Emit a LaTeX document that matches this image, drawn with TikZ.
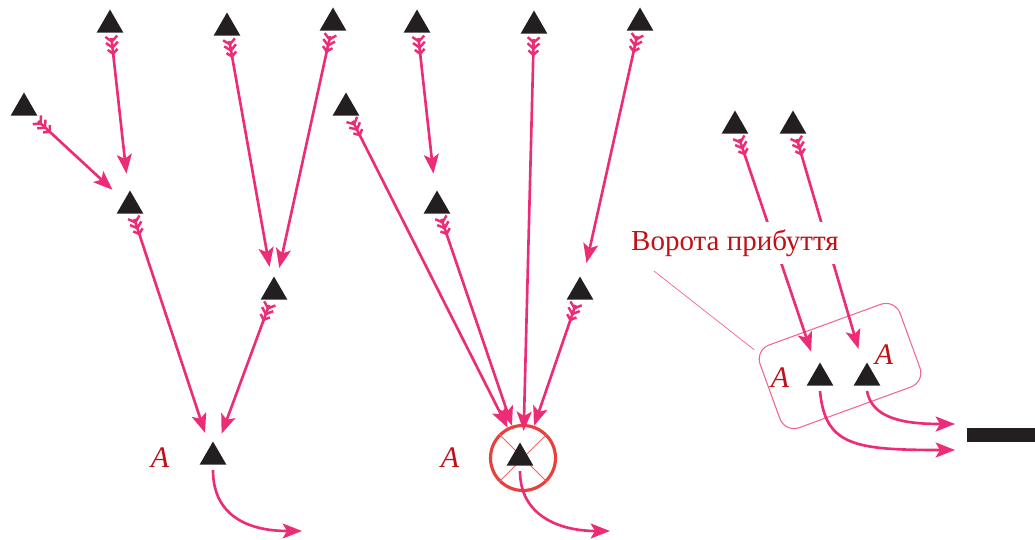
\documentclass[tikz,border=0pt]{standalone}
\usepackage{fontspec}
\setmainfont{Liberation Serif}
\usepackage{xcolor}
\usetikzlibrary{arrows.meta,shapes.geometric,decorations.markings}

\definecolor{arrowpink}{RGB}{236,44,118}
\definecolor{labelred}{RGB}{192,16,24}
\definecolor{ringred}{RGB}{232,64,60}
\definecolor{boxpink}{RGB}{240,100,145}
\definecolor{antblack}{RGB}{35,31,32}

\begin{document}
\begin{tikzpicture}[x=0.02cm,y=-0.02cm,
  every node/.style={font=\fontsize{16.5}{19}\selectfont},
  ant/.style={regular polygon,regular polygon sides=3,fill=antblack,
    minimum size=0.62cm,inner sep=0pt,outer sep=3pt},
  chevron/.style={draw=arrowpink,line width=1.4pt,-,shorten <=0pt,shorten >=0pt},
  flow/.style={draw=arrowpink,line width=1.5pt,
    -{Stealth[length=11pt,width=8.5pt,inset=2.5pt]}},
  fletched/.style={flow,postaction={decorate,decoration={markings,
      mark=at position 1.5pt with {\draw[chevron] (-2.5pt,3.4pt) -- (0.5pt,0pt) -- (-2.5pt,-3.4pt);},
      mark=at position 5pt with {\draw[chevron] (-2.5pt,3.4pt) -- (0.5pt,0pt) -- (-2.5pt,-3.4pt);},
      mark=at position 8.5pt with {\draw[chevron] (-2pt,2.8pt) -- (0.5pt,0pt) -- (-2pt,-2.8pt);}}}},
  letter/.style={text=labelred,font=\fontsize{17}{20}\selectfont\itshape},
]
\useasboundingbox (0,0) rectangle (1035,540);

% first colony: two merging branches
\node[ant] (t1) at (110,25) {};
\node[ant] (t2) at (227,28) {};
\node[ant] (t3) at (333,23) {};
\node[ant] (t4) at (24,108) {};
\node[ant] (t5) at (130,206) {};
\node[ant] (t6) at (274,292) {};
\node[ant] (a1) at (213,457) {};
\node[letter] (a1lbl) at (160,458) {A};

\draw[fletched,shorten >=6pt] (t4) -- (t5);
\draw[fletched,shorten >=6pt] (t1) -- (t5);
\draw[fletched,shorten >=4.5pt] (t5) -- (a1);
\draw[fletched,shorten >=3pt] (t2) -- (t6);
\draw[fletched,shorten >=3pt] (t3) -- (t6);
\draw[fletched,shorten >=4.5pt] (t6) -- (a1);
\coordinate (a1end) at (302,531);
\draw[flow] (a1.south) .. controls +(0,45) and +(-55,0) .. (a1end);

% second colony: everything crowds into one point
\node[draw=ringred,line width=1.8pt,circle,minimum size=1.3cm] (gate) at (523,458) {};
\draw[ringred!80,line width=0.5pt] (gate.north west) -- (gate.south east)
  (gate.north east) -- (gate.south west);
\node[ant] (m1) at (346,108) {};
\node[ant] (m2) at (417,25) {};
\node[ant] (m3) at (534,26) {};
\node[ant] (m4) at (640,23) {};
\node[ant] (m5) at (437,206) {};
\node[ant] (m6) at (580,292) {};
\node[ant] (a2) at (520,458) {};
\node[letter] (a2lbl) at (450,458) {A};

\draw[fletched] (m1) -- (gate);
\draw[fletched,shorten >=6pt] (m2) -- (m5);
\draw[fletched] (m5) -- (gate);
\draw[fletched,shorten >=-4pt] (m3) -- (gate);
\draw[fletched,shorten >=6pt] (m4) -- (m6);
\draw[fletched] (m6) -- (gate);
\coordinate (a2end) at (610,531);
\draw[flow] (a2.south) .. controls +(0,45) and +(-50,0) .. (a2end);

% arrival gate
\node[draw=boxpink,line width=0.6pt,rounded corners=0.3cm,rotate=20,
  minimum width=2.98cm,minimum height=1.76cm] (gatebox) at (840,366) {};
\node[ant] (r1) at (735,126) {};
\node[ant] (r2) at (793,126) {};
\node[ant] (ra1) at (820,378) {};
\node[ant] (ra2) at (867,378) {};
\node[letter] (ra1lbl) at (780,378) {A};
\node[letter] (ra2lbl) at (884,355) {A};

\draw[fletched,shorten >=6pt] (r1) -- (ra1);
\draw[fletched,shorten >=7pt] (r2) -- (ra2);
\coordinate (ra1end) at (955,450);
\coordinate (ra2end) at (955,424);
\draw[flow] (ra1.south) .. controls +(5,55) and +(-100,0) .. (ra1end);
\draw[flow] (ra2.south) .. controls +(5,28) and +(-50,0) .. (ra2end);

\node[fill=white,text=labelred,inner sep=4pt] (gatelabel) at (735,243) {Ворота прибуття};
\draw[boxpink,line width=0.4pt] ([xshift=0.6cm,yshift=-4pt]gatelabel.south west)
  -- (gatebox.north west);

% nest
\fill[antblack] (967,428) rectangle (1035,442);
\end{tikzpicture}
\end{document}
